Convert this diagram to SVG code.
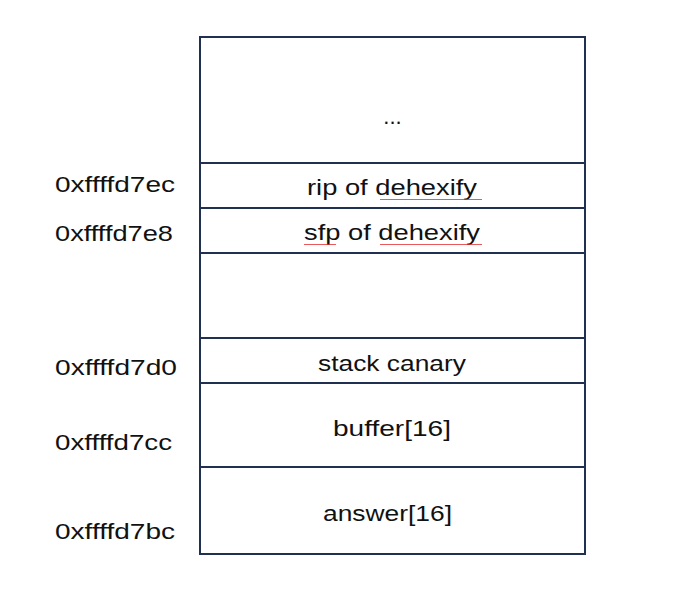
<svg xmlns="http://www.w3.org/2000/svg" width="693" height="608" viewBox="0 0 693 608">
<style>
.cell{fill:#fff;stroke:#1f3050;stroke-width:2}
.t{font-family:"Liberation Sans",Arial,sans-serif;font-size:22px;fill:#111}
.c{text-anchor:middle}
.sq{fill:none;stroke:#e03030;stroke-width:0.8}
</style>
<defs>
<pattern id="wave" width="4" height="3" patternUnits="userSpaceOnUse"><path d="M0,2 L1,1 L2,2 L3,1 L4,2" class="sq"/></pattern>
</defs>
<rect width="693" height="608" fill="#fff"/>
<g id="cell-top"><rect class="cell" x="200" y="37" width="385" height="126"/><text class="t c" x="392.5" y="124">...</text></g>
<g id="cell-rip"><rect class="cell" x="200" y="163" width="385" height="45"/><text class="t" x="307" y="195" textLength="170" lengthAdjust="spacingAndGlyphs">rip of dehexify</text><rect x="380" y="197" width="102" height="3" fill="url(#wave)"/></g>
<g id="cell-sfp"><rect class="cell" x="200" y="208" width="385" height="45"/><text class="t" x="304" y="240" textLength="176" lengthAdjust="spacingAndGlyphs">sfp of dehexify</text><rect x="304" y="242" width="32" height="3" fill="url(#wave)"/><rect x="380" y="242" width="102" height="3" fill="url(#wave)"/></g>
<g id="cell-gap"><rect class="cell" x="200" y="253" width="385" height="85"/></g>
<g id="cell-canary"><rect class="cell" x="200" y="338" width="385" height="45"/><text class="t" x="318" y="371" textLength="148" lengthAdjust="spacingAndGlyphs">stack canary</text></g>
<g id="cell-buffer"><rect class="cell" x="200" y="383" width="385" height="84"/><text class="t" x="333" y="436" textLength="118" lengthAdjust="spacingAndGlyphs">buffer[16]</text></g>
<g id="cell-answer"><rect class="cell" x="200" y="467" width="385" height="87"/><text class="t" x="323" y="521" textLength="129" lengthAdjust="spacingAndGlyphs">answer[16]</text></g>
<g id="addresses">
<text class="t" x="55" y="192" textLength="120" lengthAdjust="spacingAndGlyphs">0xffffd7ec</text>
<text class="t" x="55" y="241" textLength="118" lengthAdjust="spacingAndGlyphs">0xffffd7e8</text>
<text class="t" x="55" y="375" textLength="122" lengthAdjust="spacingAndGlyphs">0xffffd7d0</text>
<text class="t" x="55" y="450" textLength="117" lengthAdjust="spacingAndGlyphs">0xffffd7cc</text>
<text class="t" x="55" y="539" textLength="120" lengthAdjust="spacingAndGlyphs">0xffffd7bc</text>
</g>
<g id="connectors"/>
</svg>
